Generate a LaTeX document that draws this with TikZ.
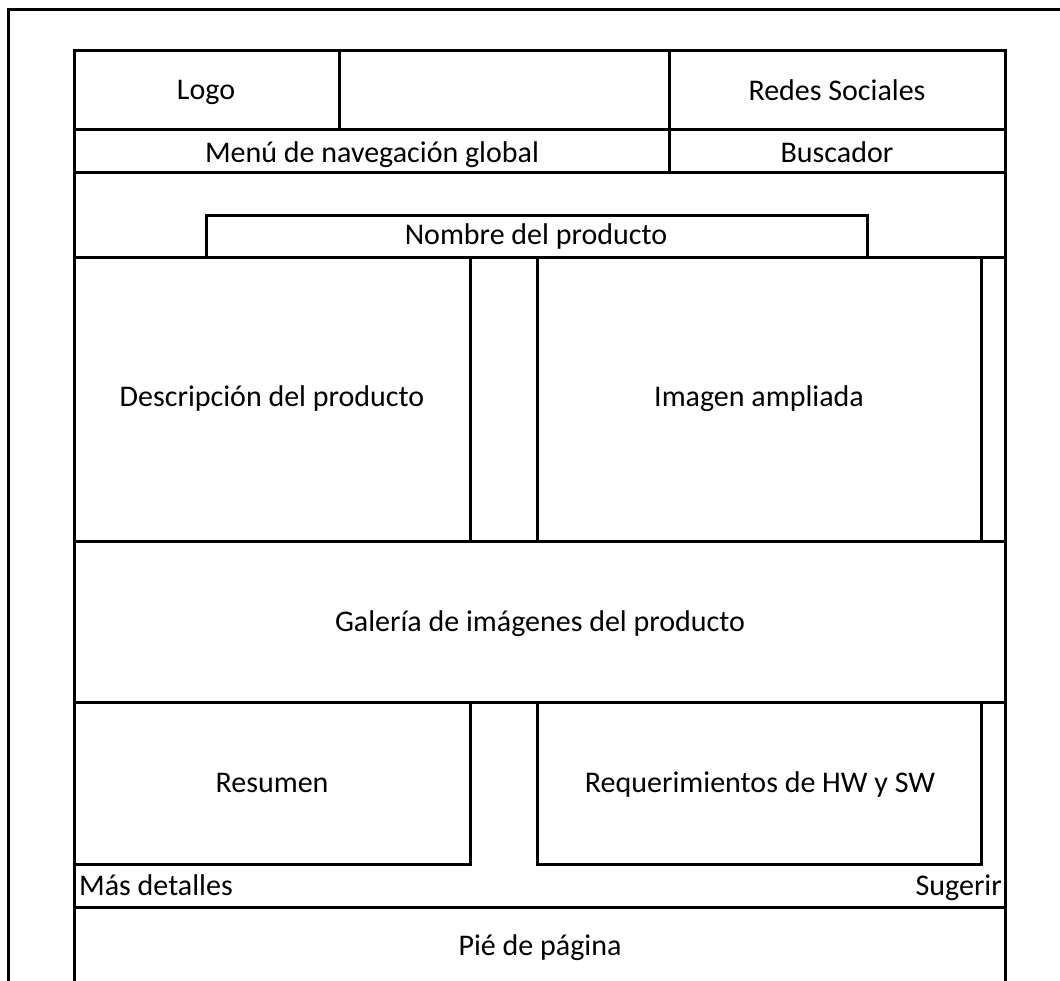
\documentclass[tikz,border=0pt]{standalone}
\usepackage{fontspec}
\setmainfont{Carlito}
\begin{document}
\begin{tikzpicture}[x=1pt,y=-1pt,
  frame/.style={line width=3pt, line cap=rect},
  box/.style={draw, line width=3pt, anchor=north west, inner sep=0pt, outer sep=0pt},
  lbl/.style={font=\fontsize{30}{32}\selectfont, inner sep=0pt, anchor=base}]
\useasboundingbox (0,0) rectangle (1060,981);
% outer frame
\coordinate (ol) at (8,1000);
\coordinate (otl) at (8,10);
\coordinate (otr) at (1080,10);
\draw[frame] (ol) -- (otl) -- (otr);
% inner frame
\coordinate (il) at (74,1000);
\coordinate (itl) at (74,51);
\coordinate (itr) at (1005,51);
\coordinate (ir) at (1005,1000);
\draw[frame] (il) -- (itl) -- (itr) -- (ir);
% header
\node[box, minimum width=265pt, minimum height=79pt] (logo) at (74,51) {};
\node[box, minimum width=330pt, minimum height=79pt] (blank) at (339,51) {};
\node[box, minimum width=336pt, minimum height=79pt] (redes) at (669,51) {};
\node[box, minimum width=595pt, minimum height=43pt] (menu) at (74,130) {};
\node[box, minimum width=336pt, minimum height=43pt] (busc) at (669,130) {};
\node[box, minimum width=931pt, minimum height=85pt] (area) at (74,173) {};
\node[box, minimum width=661pt, minimum height=42pt] (nombre) at (206,216) {};
% product row
\node[box, minimum width=931pt, minimum height=283pt] (row) at (74,258) {};
\node[box, minimum width=396pt, minimum height=283pt] (desc) at (74,258) {};
\node[box, minimum width=444pt, minimum height=283pt] (imagen) at (537,258) {};
% gallery
\node[box, minimum width=931pt, minimum height=161pt] (gal) at (74,541) {};
% summary row
\node[box, minimum width=396pt, minimum height=162pt] (resumen) at (74,702) {};
\node[box, minimum width=444pt, minimum height=162pt] (req) at (537,702) {};
% footer
\node[box, minimum width=931pt, minimum height=100pt] (pie) at (74,907) {};
% labels
\node[lbl] (tlogo) at (206,100) {Logo};
\node[lbl] (tredes) at (837,100.5) {Redes Sociales};
\node[lbl] (tmenu) at (372,163) {Menú de navegación global};
\node[lbl] (tbusc) at (837,163) {Buscador};
\node[lbl] (tnombre) at (536,245) {Nombre del producto};
\node[lbl] (tdesc) at (272,406.5) {Descripción del producto};
\node[lbl] (timagen) at (759,406.5) {Imagen ampliada};
\node[lbl] (tgal) at (540,631.5) {Galería de imágenes del producto};
\node[lbl] (tres) at (272,792.5) {Resumen};
\node[lbl] (treq) at (760,792.5) {Requerimientos de HW y SW};
\node[lbl, anchor=base west] (mas) at (79,895) {Más detalles};
\node[lbl, anchor=base east] (sug) at (1002,895.5) {Sugerir};
\node[lbl] (pietxt) at (540,955) {Pié de página};
\end{tikzpicture}
\end{document}
